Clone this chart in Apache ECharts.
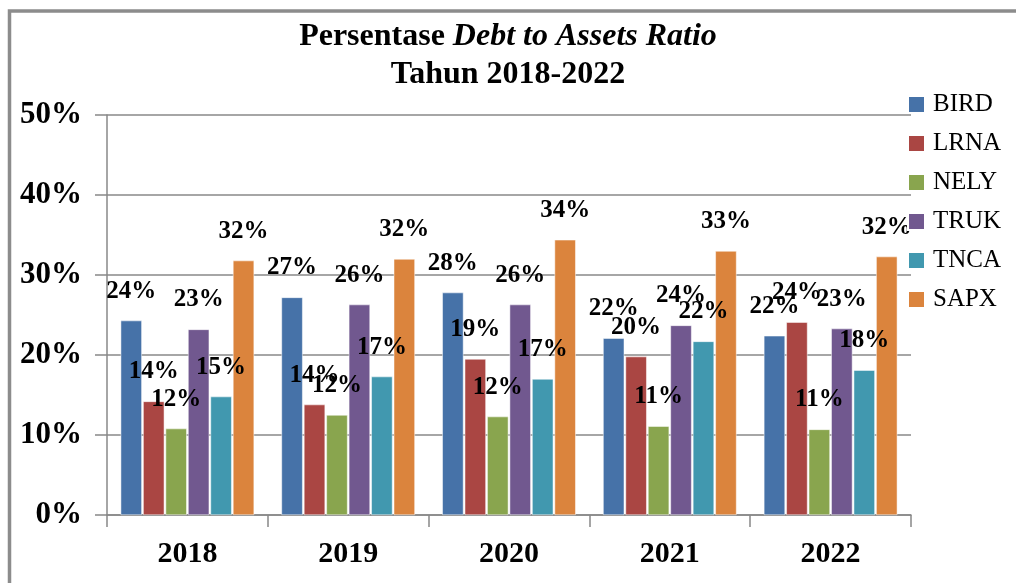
<!DOCTYPE html>
<html><head><meta charset="utf-8">
<script src="https://cdn.jsdelivr.net/npm/echarts@6/dist/echarts.min.js"></script>
<style>html,body{margin:0;padding:0;background:#fff}#c{width:1016px;height:583px}</style>
</head><body><div id="c"></div>
<script>
const categories = ['2018', '2019', '2020', '2021', '2022'];
const seriesNames = ['BIRD', 'LRNA', 'NELY', 'TRUK', 'TNCA', 'SAPX'];
const BIRD = [24.3, 27.2, 27.8, 22.1, 22.4];
const LRNA = [14.2, 13.8, 19.5, 19.8, 24.1];
const NELY = [10.8, 12.5, 12.3, 11.1, 10.7];
const TRUK = [23.2, 26.3, 26.3, 23.7, 23.3];
const TNCA = [14.8, 17.3, 17.0, 21.7, 18.1];
const SAPX = [31.8, 32.0, 34.4, 33.0, 32.3];
const BIRD_labels = [24, 27, 28, 22, 22];
const LRNA_labels = [14, 14, 19, 20, 24];
const NELY_labels = [12, 12, 12, 11, 11];
const TRUK_labels = [23, 26, 26, 24, 23];
const TNCA_labels = [15, 17, 17, 22, 18];
const SAPX_labels = [32, 32, 34, 33, 32];
const yTicks = [0, 10, 20, 30, 40, 50];

const values = [BIRD, LRNA, NELY, TRUK, TNCA, SAPX];
const labels = [BIRD_labels, LRNA_labels, NELY_labels, TRUK_labels, TNCA_labels, SAPX_labels];
const colors = ['#4672A8', '#AA4643', '#89A54E', '#71588F', '#4198AF', '#DB843D'];
const serif = '"Liberation Serif", "Times New Roman", serif';

const chart = echarts.init(document.getElementById('c'));
chart.setOption({
  animation: false,
  textStyle: { fontFamily: serif },
  graphic: [{
    type: 'rect', shape: { x: 9.5, y: 11, width: 1100, height: 700 },
    style: { fill: 'none', stroke: '#8c8c8c', lineWidth: 3.5 }, silent: true
  }],
  title: {
    text: '{n|Persentase }{i|Debt to Assets Ratio}\n{n|Tahun 2018-2022}',
    left: 'center', top: 18, padding: 0,
    textStyle: {
      rich: {
        n: { fontFamily: serif, fontWeight: 'bold', fontSize: 32, color: '#000', lineHeight: 38 },
        i: { fontFamily: serif, fontWeight: 'bold', fontStyle: 'italic', fontSize: 32, color: '#000', lineHeight: 38 }
      }
    }
  },
  legend: {
    orient: 'vertical', left: 907, top: 92, padding: 0,
    itemWidth: 17, itemHeight: 17, itemGap: 14, icon: 'rect',
    textStyle: { fontFamily: serif, fontSize: 25, color: '#000', padding: [0, 0, 0, 3] },
    data: seriesNames
  },
  grid: { left: 107, right: 105, top: 115, bottom: 68, containLabel: false },
  xAxis: {
    type: 'category', data: categories,
    axisLine: { lineStyle: { color: '#888', width: 1.5 } },
    axisTick: { show: true, length: 12, lineStyle: { color: '#888', width: 1.5 } },
    axisLabel: { fontFamily: serif, fontWeight: 'bold', fontSize: 30, color: '#000', margin: 24 }
  },
  yAxis: {
    type: 'value', min: 0, max: 50, interval: 10,
    axisLine: { show: true, lineStyle: { color: '#888', width: 1.5 } },
    axisTick: { show: true, length: 12, lineStyle: { color: '#888', width: 1.5 } },
    splitLine: { lineStyle: { color: '#888', width: 1.5 } },
    axisLabel: { fontFamily: serif, fontWeight: 'bold', fontSize: 31, color: '#000', margin: 25,
      formatter: v => yTicks.includes(v) ? v + '%' : '' }
  },
  series: seriesNames.map((name, si) => ({
    name, type: 'bar',
    data: values[si],
    barGap: '6%', barCategoryGap: '17%',
    itemStyle: { color: colors[si], borderColor: '#fff', borderWidth: 0.5 },
    label: {
      show: true, position: 'top', distance: 17,
      fontFamily: serif, fontWeight: 'bold', fontSize: 25, color: '#000',
      formatter: p => labels[si][p.dataIndex] + '%'
    }
  }))
});
</script></body></html>
